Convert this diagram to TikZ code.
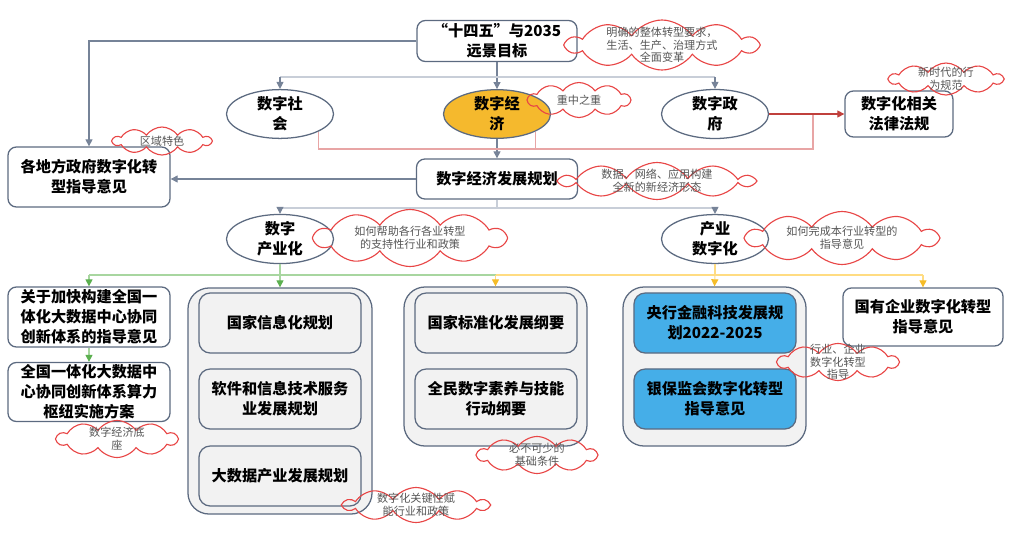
\documentclass[tikz,border=0pt]{standalone}
\usepackage{fontspec}
\setmainfont{Noto Sans CJK SC}
\usetikzlibrary{arrows.meta,shapes.geometric,shapes.symbols}
\definecolor{boxline}{RGB}{92,106,128}
\definecolor{linkdark}{RGB}{118,131,152}
\definecolor{linklight}{RGB}{200,206,216}
\definecolor{ecofill}{RGB}{245,185,45}
\definecolor{bluefill}{RGB}{69,174,232}
\definecolor{grpfill}{RGB}{242,242,242}
\definecolor{cloudred}{RGB}{232,70,70}
\definecolor{notegray}{RGB}{85,85,85}
\definecolor{reddark}{RGB}{192,64,60}
\definecolor{redlight}{RGB}{232,165,165}
\definecolor{greendark}{RGB}{92,176,80}
\definecolor{greenlight}{RGB}{168,214,160}
\definecolor{yellowdark}{RGB}{245,188,40}
\definecolor{yellowlight}{RGB}{255,220,130}
\begin{document}
\begin{tikzpicture}[x=0.025cm,y=-0.025cm,
 box/.style={draw=boxline,line width=0.9pt,rounded corners=6pt,align=center,inner sep=0pt,font=\fontsize{10.8}{14.2}\selectfont\bfseries},
 oval/.style={ellipse,draw=boxline,line width=0.9pt,align=center,inner sep=0pt,minimum width=2.675cm,minimum height=1.15cm,font=\fontsize{10.8}{14.2}\selectfont\bfseries},
 grp/.style={draw=boxline,line width=0.9pt,fill=grpfill,rounded corners=15pt},
 inbox/.style={box,fill=grpfill,rounded corners=8pt,minimum width=4.05cm,minimum height=1.5cm},
 note/.style={cloud,cloud puffs=10,cloud puff arc=110,draw=cloudred,line width=0.8pt,inner sep=0pt},
 notetext/.style={text=notegray,align=center,inner sep=0pt,font=\fontsize{7.9}{9}\selectfont},
 link/.style={draw=linkdark,line width=0.75pt,-{Triangle[length=5pt,width=5pt]}},
 glink/.style={draw=greenlight,line width=0.75pt,-{Triangle[length=5pt,width=5pt,color=greendark]}},
 ylink/.style={draw=yellowlight,line width=0.75pt,-{Triangle[length=5pt,width=5pt,color=yellowdark]}}]
\useasboundingbox (0,0) rectangle (1014,534);

% 顶层
\node[box,minimum width=4cm,minimum height=1.025cm] (goal) at (497,41) {“十四五”与2035\\远景目标};
\node[oval] (society) at (280,114) {数字社\\会};
\node[oval,fill=ecofill] (economy) at (497,114) {数字经\\济};
\node[oval] (govt) at (715,114) {数字政\\府};
\node[box,minimum width=2.7cm,minimum height=1.15cm] (law) at (899,114) {数字化相关\\法律法规};
\node[box,minimum width=4.05cm,minimum height=1.5cm] (local) at (89,177) {各地方政府数字化转\\型指导意见};
\node[box,minimum width=4.025cm,minimum height=1cm] (plan) at (497,179) {数字经济发展规划};
\node[oval] (ind) at (280,239) {数字\\产业化};
\node[oval] (digi) at (715,239) {产业\\数字化};

% 底层
\node[box,minimum width=4.05cm,minimum height=1.5cm] (bd1) at (89,317) {关于加快构建全国一\\体化大数据中心协同\\创新体系的指导意见};
\node[box,minimum width=4.05cm,minimum height=1.475cm] (bd2) at (89,392) {全国一体化大数据中\\心协同创新体系算力\\枢纽实施方案};
\node[grp,minimum width=4.6cm,minimum height=5.65cm] (grpA) at (280,401) {};
\node[inbox] (a1) at (280,323) {国家信息化规划};
\node[inbox] (a2) at (280,399) {软件和信息技术服务\\业发展规划};
\node[inbox] (a3) at (280,476) {大数据产业发展规划};
\node[grp,minimum width=4.575cm,minimum height=3.975cm] (grpB) at (495.5,366.5) {};
\node[inbox] (b1) at (496,323) {国家标准化发展纲要};
\node[inbox] (b2) at (496,399) {全民数字素养与技能\\行动纲要};
\node[grp,minimum width=4.575cm,minimum height=3.975cm] (grpC) at (714.5,366.5) {};
\node[inbox,fill=bluefill] (c1) at (715,323) {央行金融科技发展规\\划2022-2025};
\node[inbox,fill=bluefill] (c2) at (715,399) {银保监会数字化转型\\指导意见};
\node[box,minimum width=4cm,minimum height=1.45cm] (soe) at (923,317) {国有企业数字化转型\\指导意见};

% 连线
\coordinate (j1) at (497,77);
\coordinate (j2) at (497,208);
\coordinate (rj) at (813,149);
\coordinate (gj) at (280,275);
\coordinate (yj) at (715,275);
\draw[link] (goal.west) -| (local.north);
\draw[link] (goal.south) -- (economy.north);
\draw[linklight,line width=0.75pt] (society.north |- j1) -- (govt.north |- j1);
\draw[link] (society.north |- j1) -- (society.north);
\draw[link] (govt.north |- j1) -- (govt.north);
\draw[link] (economy.south) -- (plan.north);
\draw[link] (plan.west) -- (plan.west -| local.east);
\draw[linklight,line width=0.75pt] (plan.south) -- (j2);
\draw[linklight,line width=0.75pt] (ind.north |- j2) -- (digi.north |- j2);
\draw[link] (ind.north |- j2) -- (ind.north);
\draw[link] (digi.north |- j2) -- (digi.north);
\draw[redlight,line width=0.75pt] (society.south east) |- (rj) -- (rj |- law.west);
\draw[redlight,line width=0.75pt] (economy.south east) -- (economy.south east |- rj);
\draw[draw=reddark,line width=0.8pt,-{Triangle[length=5pt,width=5pt]}] (govt.east) -- (law.west);
\draw[greenlight,line width=0.75pt] (ind.south) -- (gj);
\draw[greenlight,line width=0.75pt] (bd1.north |- gj) -- (grpB.north |- gj);
\draw[glink] (bd1.north |- gj) -- (bd1.north);
\draw[glink] (gj) -- (grpA.north);
\draw[glink] (bd1.south) -- (bd2.north);
\draw[yellowlight,line width=0.75pt] (digi.south) -- (yj);
\draw[yellowlight,line width=0.75pt] (grpB.north |- yj) -- (soe.north |- yj);
\draw[ylink] (grpB.north |- yj) -- (grpB.north);
\draw[ylink] (yj) -- (grpC.north);
\draw[ylink] (soe.north |- yj) -- (soe.north);

% 批注云
\node[note,minimum width=4.75cm,minimum height=1.25cm,label={[notetext]center:{明确的整体转型要求，\\生活、生产、治理方式\\全面变革}}] (n1) at (662,45) {};
\node[note,minimum width=2.55cm,minimum height=0.875cm,label={[notetext]center:重中之重}] (n2) at (579,100) {};
\node[note,minimum width=2.825cm,minimum height=0.8cm,label={[notetext]center:{新时代的行\\为规范}}] (n3) at (946,79) {};
\node[note,minimum width=2.45cm,minimum height=0.7cm,label={[notetext]center:区域特色}] (n4) at (162,141) {};
\node[note,minimum width=4.775cm,minimum height=0.925cm,label={[notetext]center:{数据、网络、应用构建\\全新的新经济形态}}] (n5) at (657,181) {};
\node[note,minimum width=4.75cm,minimum height=1.425cm,label={[notetext]center:{如何帮助各行各业转型\\的支持性行业和政策}}] (n6) at (410,238) {};
\node[note,minimum width=4.75cm,minimum height=1.325cm,label={[notetext]center:{如何完成本行业转型的\\指导意见}}] (n7) at (842,238) {};
\node[note,minimum width=3cm,minimum height=0.925cm,label={[notetext]center:{数字经济底\\座}}] (n8) at (117,439) {};
\node[note,minimum width=3.6cm,minimum height=0.875cm,label={[notetext]center:{数字化关键性赋\\能行业和政策}}] (n9) at (416,505) {};
\node[note,minimum width=2.975cm,minimum height=0.925cm,label={[notetext]center:{必不可少的\\基础条件}}] (n10) at (537,455) {};
\node[note,minimum width=3cm,minimum height=0.925cm,label={[notetext]center:{行业、企业\\数字化转型\\指导}}] (n11) at (838,362) {};
\end{tikzpicture}
\end{document}
